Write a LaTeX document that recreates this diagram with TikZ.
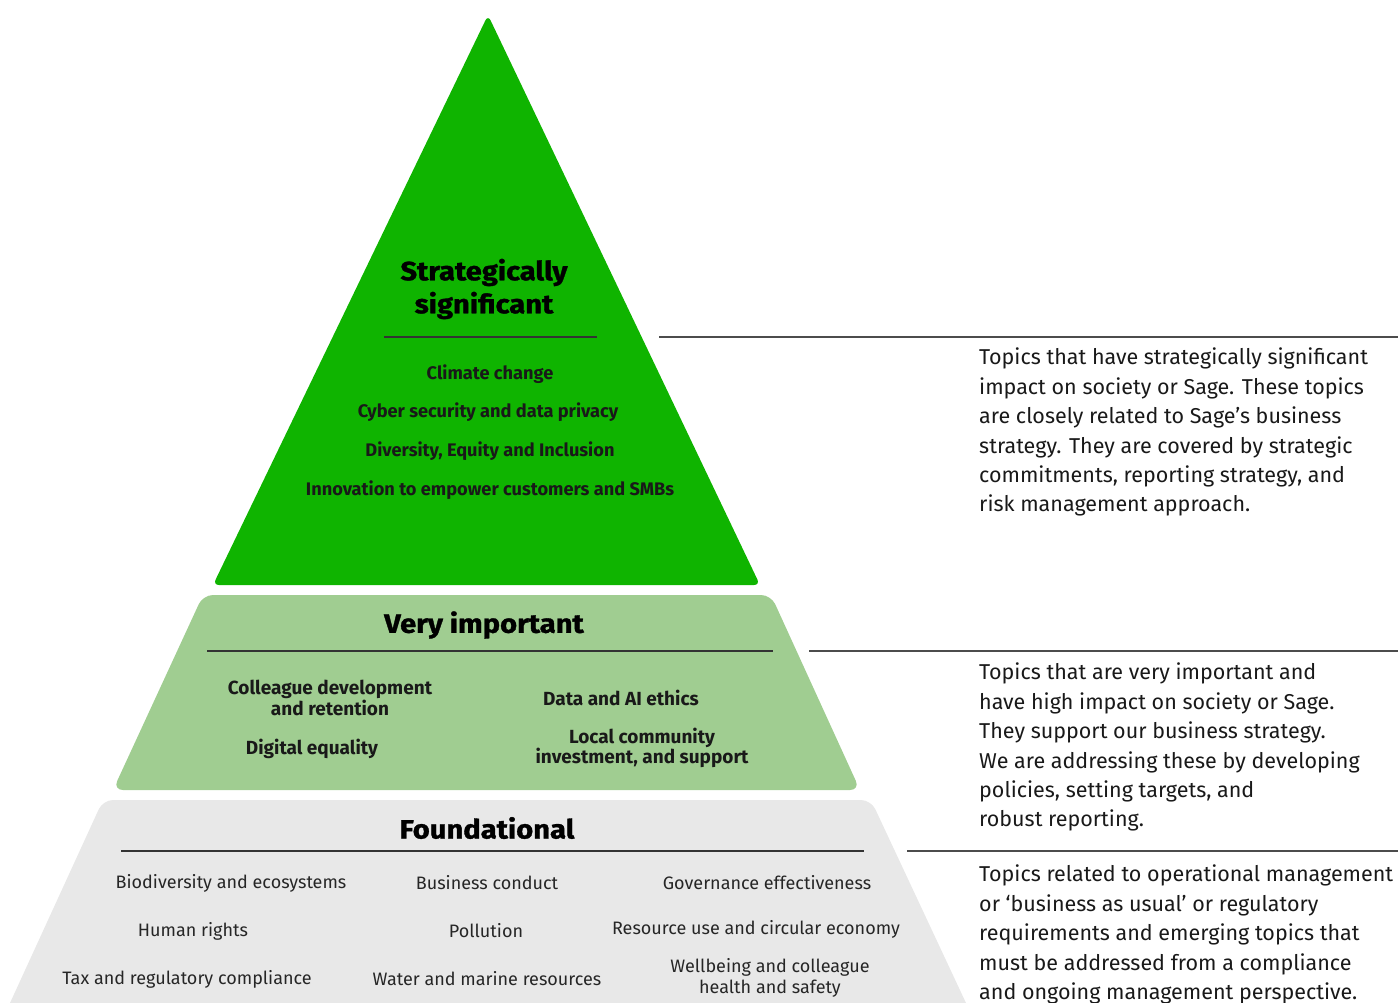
\documentclass[tikz,border=0pt]{standalone}
\usepackage{fontspec}
\setmainfont{Fira Sans}
\newfontfamily\titlefont[FakeStretch=1.1,BoldFeatures={FakeBold=1.2}]{Fira Sans}
\definecolor{topgreen}{HTML}{0FB400}
\definecolor{midgreen}{HTML}{A0CD91}
\definecolor{basegray}{HTML}{E8E8E8}
\definecolor{rule}{HTML}{333333}
\begin{document}
\begin{tikzpicture}[x=1pt,y=-1pt,
  title/.style={font=\titlefont\fontsize{26.5}{33}\selectfont\bfseries, align=center, text=black},
  topitem/.style={font=\fontsize{18.2}{21}\selectfont\bfseries, text=black!90},
  miditem/.style={font=\fontsize{19}{20.5}\selectfont\bfseries, align=center, text=black!90, inner sep=0pt},
  baseitem/.style={font=\fontsize{18}{20.5}\selectfont, align=center, text=black!85, inner sep=0pt},
  desc/.style={font=\fontsize{21.5}{29.4}\selectfont, align=left, anchor=north west, inner sep=0pt, text=black!90},
  rulel/.style={draw=rule, line width=1.2pt},
  sider/.style={draw=black!70, line width=1.2pt}]
\useasboundingbox (0,0) rectangle (1398,1003);
% shapes
\fill[topgreen, rounded corners=6pt] (488,15) -- (760,585) -- (213,585) -- cycle;
\fill[midgreen, rounded corners=10pt] (203,595) -- (771,595) -- (860,790) -- (113,790) -- cycle;
\fill[basegray] (10,1003) [rounded corners=10pt] -- (103,800) -- (871,800) [sharp corners] -- (966,1003) -- cycle;
% top tier
\node[title] (t1) at (484,289) {Strategically\\significant};
\coordinate (r1a) at (384,337); \coordinate (r1b) at (597,337);
\draw[rulel] (r1a) -- (r1b);
\node[topitem] (c1) at (490,374) {Climate change};
\node[topitem] (c2) at (488,412) {Cyber security and data privacy};
\node[topitem] (c3) at (490,451) {Diversity, Equity and Inclusion};
\node[topitem] (c4) at (490,490) {Innovation to empower customers and SMBs};
% middle tier
\node[title] (t2) at (484,625) {Very important};
\coordinate (r2a) at (207,651); \coordinate (r2b) at (773,651);
\draw[rulel] (r2a) -- (r2b);
\node[miditem] (m1) at (330,698) {Colleague development\\and retention};
\node[miditem] (m2) at (312,749) {Digital equality};
\node[miditem] (m3) at (621,698) {Data and AI ethics};
\node[miditem] (m4) at (642,748) {Local community\\investment, and support};
% base tier
\node[title] (t3) at (487,828) {Foundational};
\coordinate (r3a) at (121,851); \coordinate (r3b) at (864,851);
\draw[rulel] (r3a) -- (r3b);
\node[baseitem] (b1) at (231,883) {Biodiversity and ecosystems};
\node[baseitem] (b2) at (487,883) {Business conduct};
\node[baseitem] (b3) at (767,883) {Governance effectiveness};
\node[baseitem] (b4) at (193,931) {Human rights};
\node[baseitem] (b5) at (486,931) {Pollution};
\node[baseitem] (b6) at (756,929) {Resource use and circular economy};
\node[baseitem] (b7) at (187,979) {Tax and regulatory compliance};
\node[baseitem] (b8) at (487,979) {Water and marine resources};
\node[baseitem] (b9) at (770,978) {Wellbeing and colleague\\health and safety};
% side rules
\coordinate (s1a) at (659,337); \coordinate (s1b) at (1398,337);
\coordinate (s2a) at (809,651); \coordinate (s2b) at (1398,651);
\coordinate (s3a) at (907,851); \coordinate (s3b) at (1398,851);
\draw[sider] (s1a) -- (s1b);
\draw[sider] (s2a) -- (s2b);
\draw[sider] (s3a) -- (s3b);
% descriptions
\node[desc] (d1) at (979,348) {Topics that have strategically significant\\impact on society or Sage. These topics\\are closely related to Sage’s business\\strategy. They are covered by strategic\\commitments, reporting strategy, and\\risk management approach.};
\node[desc] (d2) at (979,663) {Topics that are very important and\\have high impact on society or Sage.\\They support our business strategy.\\We are addressing these by developing\\policies, setting targets, and\\robust reporting.};
\node[desc] (d3) at (979,865) {Topics related to operational management\\or ‘business as usual’ or regulatory\\requirements and emerging topics that\\must be addressed from a compliance\\and ongoing management perspective.};
\end{tikzpicture}
\end{document}
